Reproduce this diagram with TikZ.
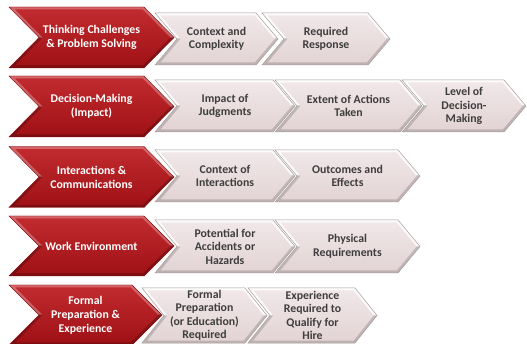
\documentclass[tikz,border=0pt]{standalone}
\usepackage{fontspec}
\setmainfont{Carlito}
\definecolor{redtop}{RGB}{194,44,48}
\definecolor{redbot}{RGB}{158,16,20}
\definecolor{rededge}{RGB}{140,14,18}
\definecolor{grtop}{RGB}{241,232,233}
\definecolor{grbot}{RGB}{226,211,212}
\definecolor{gredge}{RGB}{168,156,157}
\definecolor{txtgray}{RGB}{62,62,62}
\tikzset{
  redfill/.style={top color=redtop, bottom color=redbot},
  grayfill/.style={top color=grtop, bottom color=grbot},
  rededgeline/.style={draw=rededge, line width=0.4pt},
  grayedgeline/.style={draw=gredge, line width=0.5pt},
  redlight/.style={draw=white, draw opacity=0.28, line width=5pt},
  reddark/.style={draw=black, draw opacity=0.22, line width=5pt},
  graylight/.style={draw=white, draw opacity=0.85, line width=5pt},
  graydark/.style={draw=black, draw opacity=0.16, line width=5pt},
  redtext/.style={text=white, font=\bfseries\fontsize{11.8}{13.8}\selectfont, align=center, inner sep=0pt},
  graytext/.style={text=txtgray, font=\bfseries\fontsize{11.8}{13.5}\selectfont, align=center, inner sep=0pt},
}
% #1 name, #2 left x, #3 tip x, #4 centre y, #5 half height, #6 depth, #7 kind, #8 text
\newcommand{\chev}[8]{%
  \coordinate (#1-a) at ({#2},{#4-#5});
  \coordinate (#1-b) at ({#3-#6},{#4-#5});
  \coordinate (#1-c) at ({#3},{#4});
  \coordinate (#1-d) at ({#3-#6},{#4+#5});
  \coordinate (#1-e) at ({#2},{#4+#5});
  \coordinate (#1-f) at ({#2+#6},{#4});
  \path[#7fill] (#1-a) -- (#1-b) -- (#1-c) -- (#1-d) -- (#1-e) -- (#1-f) -- cycle;
  \begin{scope}
    \clip (#1-a) -- (#1-b) -- (#1-c) -- (#1-d) -- (#1-e) -- (#1-f) -- cycle;
    \begin{scope}
      \clip ({#2-6},{#4-#5-6}) rectangle ({#3+6},{#4});
      \path[#7light] (#1-a) -- (#1-b) -- (#1-c) -- (#1-d) -- (#1-e) -- (#1-f) -- cycle;
    \end{scope}
    \begin{scope}
      \clip ({#2-6},{#4}) rectangle ({#3+6},{#4+#5+6});
      \path[#7dark] (#1-a) -- (#1-b) -- (#1-c) -- (#1-d) -- (#1-e) -- (#1-f) -- cycle;
    \end{scope}
  \end{scope}
  \path[#7edgeline] (#1-a) -- (#1-b) -- (#1-c) -- (#1-d) -- (#1-e) -- (#1-f) -- cycle;
  \node[#7text] (#1) at ({(#2+#3)/2},{#4}) {#8};
}
\begin{document}
\begin{tikzpicture}[x=1pt, y=-1pt]
\useasboundingbox[fill=white] (0,0) rectangle (527,344);
% row 1
\chev{r1g2}{262}{390}{39}{26}{22}{gray}{Required\\Response}
\chev{r1g1}{155}{278}{39}{26}{22}{gray}{Context and\\Complexity}
\chev{r1}{9}{174}{37.5}{30.5}{30}{red}{Thinking Challenges\\\& Problem Solving}
% row 2
\chev{r2g3}{402}{526}{106}{26}{22}{gray}{Level of\\Decision-\\Making}
\chev{r2g2}{275}{422}{106}{26}{22}{gray}{Extent of Actions\\Taken}
\chev{r2g1}{155}{295}{106}{26}{22}{gray}{Impact of\\Judgments}
\chev{r2}{9}{174}{106.5}{30.5}{30}{red}{Decision-Making\\(Impact)}
% row 3
\chev{r3g2}{275}{420}{176}{26}{22}{gray}{Outcomes and\\Effects}
\chev{r3g1}{155}{295}{176}{26}{22}{gray}{Context of\\Interactions}
\chev{r3}{9}{174}{177}{30.5}{30}{red}{Interactions \&\\Communications}
% row 4
\chev{r4g2}{275}{420}{246.5}{26.5}{22}{gray}{Physical\\Requirements}
\chev{r4g1}{155}{295}{246.5}{26.5}{22}{gray}{Potential for\\Accidents or\\Hazards}
\chev{r4}{9}{174}{246}{30}{30}{red}{Work Environment}
% row 5
\chev{r5g2}{248}{377}{315.5}{27.5}{22}{gray}{Experience\\Required to\\Qualify for\\Hire}
\chev{r5g1}{142}{267}{315.5}{27.5}{22}{gray}{Formal\\Preparation\\(or Education)\\Required}
\chev{r5}{9}{162}{315}{30}{30}{red}{Formal\\Preparation \&\\Experience}
\end{tikzpicture}
\end{document}
